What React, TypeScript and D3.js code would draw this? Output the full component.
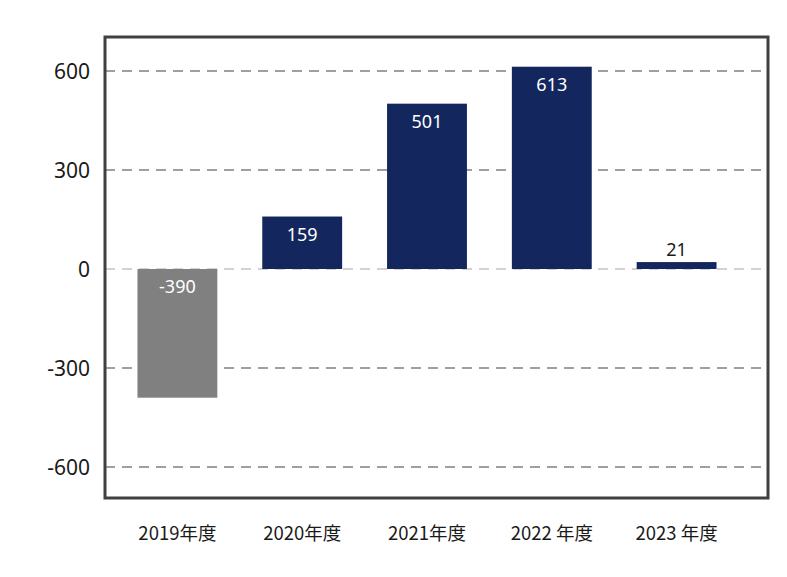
import React from "react";
import * as d3 from "d3";

const categories = ["2019年度", "2020年度", "2021年度", "2022 年度", "2023 年度"];
const values = [-390, 159, 501, 613, 21];
const yTicks = [-600, -300, 0, 300, 600];

const W = 787;
const H = 577;
const frame = { left: 105, right: 768, top: 37, bottom: 498 };

export default function App() {
  const y = d3.scaleLinear().domain([-700, 700]).range([500, 38]);
  const x = d3
    .scaleBand<string>()
    .domain(categories)
    .range([115, 739])
    .paddingInner(0.36)
    .paddingOuter(0.18);
  const y0 = y(0);
  const font = "'Noto Sans', 'Open Sans', sans-serif";

  return (
    <svg
      width={W}
      height={H}
      style={{ position: "absolute", left: 0, top: 0, background: "#fff" }}
      fontFamily={font}
    >
      {yTicks.map((t) => (
        <g key={t}>
          <line
            x1={frame.left}
            x2={frame.right}
            y1={y(t)}
            y2={y(t)}
            stroke={t === 0 ? "#a6a6a6" : "#404040"}
            strokeWidth={1.2}
            strokeDasharray="10,7"
          />
          <text
            x={90}
            y={y(t)}
            dy="0.36em"
            textAnchor="end"
            fontSize={21}
            fill="#1a1a1a"
          >
            {t}
          </text>
        </g>
      ))}
      {categories.map((c, i) => {
        const v = values[i];
        const bx = x(c)!;
        const bw = x.bandwidth();
        const top = y(Math.max(v, 0));
        const bot = y(Math.min(v, 0));
        const small = Math.abs(bot - top) < 30;
        let ly: number;
        if (small) ly = top - 6;
        else if (v >= 0) ly = top + 24;
        else ly = y0 + 24;
        return (
          <g key={c}>
            <rect
              x={bx}
              y={top}
              width={bw}
              height={bot - top}
              fill={v < 0 ? "#808080" : "#13275e"}
            />
            <text
              x={bx + bw / 2}
              y={ly}
              textAnchor="middle"
              fontSize={18}
              fill={small ? "#1a1a1a" : "#ffffff"}
            >
              {v}
            </text>
            <text
              x={bx + bw / 2}
              y={540}
              textAnchor="middle"
              fontSize={18.5}
              fill="#1a1a1a"
              fontFamily="'Noto Sans CJK JP', 'Noto Sans', sans-serif"
            >
              {c}
            </text>
          </g>
        );
      })}
      <rect
        x={frame.left}
        y={frame.top}
        width={frame.right - frame.left}
        height={frame.bottom - frame.top}
        fill="none"
        stroke="#404040"
        strokeWidth={3}
      />
    </svg>
  );
}
